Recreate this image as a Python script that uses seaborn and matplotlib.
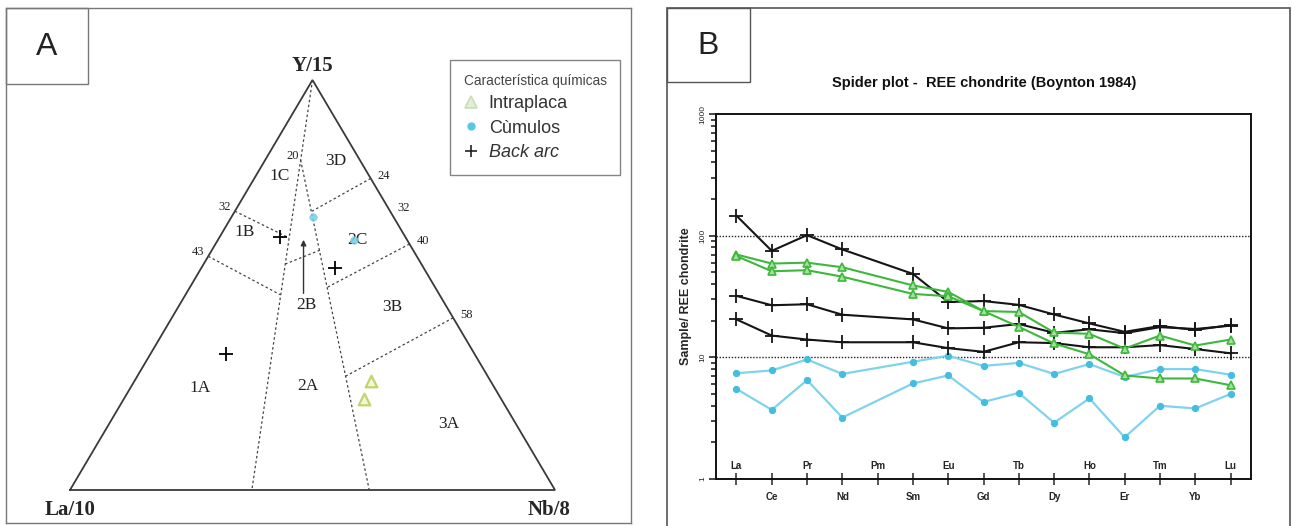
import numpy as np
import pandas as pd
import seaborn as sns
import matplotlib.pyplot as plt
from matplotlib.patches import Rectangle
from matplotlib.lines import Line2D
from matplotlib.ticker import NullFormatter

sns.set_style("white")
plt.rcParams['font.family'] = ['Liberation Sans', 'DejaVu Sans']

W, H = 1292, 526

# ---------------- datos: diagrama ternario La/10 - Y/15 - Nb/8 ----------------
# fracciones (La/10, Y/15, Nb/8)
intraplaca_la = [0.247, 0.282]
intraplaca_y = [0.266, 0.222]
intraplaca_nb = [0.487, 0.496]

cumulos_la = [0.167, 0.110]
cumulos_y = [0.666, 0.610]
cumulos_nb = [0.167, 0.280]

backarc_la = [0.259, 0.184, 0.512]
backarc_y = [0.617, 0.541, 0.332]
backarc_nb = [0.124, 0.275, 0.156]

# limites de campos (inicio -> fin), en (La, Y, Nb)
field_start = [(0.0, 1.0, 0.0), (0.122, 0.805, 0.073), (0.32, 0.68, 0.0), (0.43, 0.57, 0.0),
               (0.0, 0.76, 0.24), (0.281, 0.551, 0.168), (0.0, 0.60, 0.40), (0.0, 0.42, 0.58)]
field_end = [(0.625, 0.0, 0.375), (0.383, 0.0, 0.617), (0.241, 0.615, 0.144), (0.328, 0.476, 0.196),
             (0.161, 0.68, 0.159), (0.192, 0.585, 0.223), (0.221, 0.495, 0.284), (0.292, 0.278, 0.43)]

field_names = ["1A", "1B", "1C", "2A", "2B", "2C", "3A", "3B", "3D"]
field_la = [0.608, 0.325, 0.184, 0.382, 0.288, 0.103, 0.138, 0.113, 0.051]
field_y = [0.249, 0.629, 0.766, 0.254, 0.451, 0.610, 0.161, 0.446, 0.802]
field_nb = [0.143, 0.046, 0.050, 0.364, 0.261, 0.287, 0.701, 0.441, 0.147]

left_ticks = [32, 43]          # La %
right_ticks = [24, 32, 40, 58]  # Nb %

arrow_base = (0.282, 0.473, 0.245)
arrow_tip = (0.210, 0.617, 0.173)

# ---------------- datos: spider plot REE ----------------
ree = ["La", "Ce", "Pr", "Nd", "Pm", "Sm", "Eu", "Gd", "Tb", "Dy", "Ho", "Er", "Tm", "Yb", "Lu"]
nan = np.nan
back_arc_1 = [146, 75, 101, 77, nan, 48.5, 28.5, 29, 27, 22.5, 19, 16.2, 18.1, 16.8, 18.4]
back_arc_2 = [32, 26.8, 27.3, 22.4, nan, 20.5, 17.3, 17.5, 18.8, 15.9, 17.0, 15.8, 17.7, 17.1, 18.2]
back_arc_3 = [20.5, 15.1, 14.0, 13.3, nan, 13.3, 11.9, 11.1, 13.3, 13.1, 12.1, 12.1, 12.6, 11.7, 10.8]
intraplaca_1 = [70, 59, 60, 55, nan, 39, 34.5, 24, 23.6, 16.0, 15.6, 11.8, 15.1, 12.5, 14.0]
intraplaca_2 = [68, 51, 52, 46, nan, 33.2, 31.8, 24, 17.8, 13.0, 10.6, 7.1, 6.7, 6.7, 5.9]
cumulos_1 = [7.4, 7.8, 9.6, 7.3, nan, 9.2, 10.3, 8.5, 9.0, 7.3, 8.8, 6.9, 8.0, 8.0, 7.2]
cumulos_2 = [5.5, 3.7, 6.5, 3.2, nan, 6.1, 7.1, 4.3, 5.1, 2.9, 4.6, 2.2, 4.0, 3.8, 5.0]

SQ = np.sqrt(3) / 2


def tern_xy(la, y, nb):
    la, y, nb = np.asarray(la, float), np.asarray(y, float), np.asarray(nb, float)
    s = la + y + nb
    return nb / s + 0.5 * y / s, SQ * y / s


def fig_box(x0, y0, x1, y1):
    # pixeles (origen arriba-izquierda) -> fraccion de figura
    return [x0 / W, 1 - y1 / H, (x1 - x0) / W, (y1 - y0) / H]


fig = plt.figure(figsize=(W / 100, H / 100), dpi=100)

# ======================= Panel A =======================
ax_a = fig.add_axes(fig_box(6, 8, 631, 523))
ax_a.set_xlim((6 - 70) / 485, (631 - 70) / 485)
ax_a.set_ylim((490 - 523) / 410 * SQ, (490 - 8) / 410 * SQ)
ax_a.set_xticks([])
ax_a.set_yticks([])
for sp in ax_a.spines.values():
    sp.set_color('#777777')
    sp.set_linewidth(1.0)

# triangulo
tx, ty = tern_xy([1, 0, 0, 1], [0, 1, 0, 0], [0, 0, 1, 0])
ax_a.plot(tx, ty, color='#3a3a3a', lw=1.3, solid_joinstyle='miter')

# limites de campos
for p0, p1 in zip(field_start, field_end):
    lx, ly = tern_xy([p0[0], p1[0]], [p0[1], p1[1]], [p0[2], p1[2]])
    ax_a.plot(lx, ly, color='#444444', lw=0.9, ls=(0, (2, 2)))

serif = 'Liberation Serif'
fx, fy = tern_xy(field_la, field_y, field_nb)
for name, x, y in zip(field_names, fx, fy):
    ax_a.text(x, y, name, family=serif, fontsize=12.5, ha='center', va='center', color='#222222')

for v in left_ticks:
    x, y = tern_xy(v / 100, 1 - v / 100, 0)
    ax_a.annotate(str(v), (x, y), xytext=(-3, 3), textcoords='offset points',
                  ha='right', va='center', family=serif, fontsize=9, color='#222222')
for v in right_ticks:
    x, y = tern_xy(0, 1 - v / 100, v / 100)
    ax_a.annotate(str(v), (x, y), xytext=(5, 2), textcoords='offset points',
                  ha='left', va='center', family=serif, fontsize=9, color='#222222')
x20, y20 = tern_xy(*field_start[1])
ax_a.annotate("20", (x20, y20), xytext=(-6, 3), textcoords='offset points',
              ha='center', va='center', family=serif, fontsize=9, color='#222222')

# vertices
ax_a.annotate("Y/15", (tx[1], ty[1]), xytext=(0, 3), textcoords='offset points',
              ha='center', va='bottom', family=serif, fontsize=15, fontweight='bold')
ax_a.annotate("La/10", (tx[0], ty[0]), xytext=(0, -7), textcoords='offset points',
              ha='center', va='top', family=serif, fontsize=15, fontweight='bold')
ax_a.annotate("Nb/8", (tx[2], ty[2]), xytext=(-4, -7), textcoords='offset points',
              ha='center', va='top', family=serif, fontsize=15, fontweight='bold')

# flecha en 2B
ax_a.annotate("", xy=tern_xy(*arrow_tip), xytext=tern_xy(*arrow_base),
              arrowprops=dict(arrowstyle='-|>', lw=1.0, color='#333333', mutation_scale=8))

# puntos
tern = pd.DataFrame({
    "la": intraplaca_la + cumulos_la + backarc_la,
    "y": intraplaca_y + cumulos_y + backarc_y,
    "nb": intraplaca_nb + cumulos_nb + backarc_nb,
    "grupo": ["Intraplaca"] * 2 + ["Cùmulos"] * 2 + ["Back arc"] * 3,
})
tern["x"], tern["yc"] = tern_xy(tern["la"], tern["y"], tern["nb"])

sns.scatterplot(data=tern[tern.grupo == "Cùmulos"], x="x", y="yc", ax=ax_a,
                marker='o', s=30, color='#74cfe8', edgecolor='#74cfe8', alpha=0.85, zorder=4)
sns.scatterplot(data=tern[tern.grupo == "Intraplaca"], x="x", y="yc", ax=ax_a,
                marker='^', s=70, facecolor='#f1f6dc', edgecolor='#c2d46c', linewidth=1.6, zorder=4)
sns.scatterplot(data=tern[tern.grupo == "Back arc"], x="x", y="yc", ax=ax_a,
                marker='+', s=110, color='black', linewidth=1.3, zorder=5)
ax_a.set_xlabel("")
ax_a.set_ylabel("")

handles = [
    Line2D([], [], ls='', marker='^', ms=8, mfc='#e2efd6', mec='#c6dfb8', mew=1.2),
    Line2D([], [], ls='', marker='o', ms=5, mfc='#5cc6e6', mec='#5cc6e6'),
    Line2D([], [], ls='', marker='+', ms=9, mec='#222222', mew=1.2),
]
leg = ax_a.legend(handles, ["Intraplaca", "Cùmulos", "Back arc"], title="Característica químicas",
                  loc='upper left', bbox_to_anchor=(450 / W, 1 - 60 / H), bbox_transform=fig.transFigure,
                  fontsize=13, title_fontsize=9.8, frameon=True, fancybox=False, borderaxespad=0,
                  handlelength=0.8, handletextpad=0.6, labelspacing=0.42, borderpad=0.75,
                  alignment='left')
leg.get_frame().set_edgecolor('#666666')
leg.get_frame().set_linewidth(1.0)
leg.get_title().set_color('#444444')
leg.get_texts()[2].set_style('italic')
for t in leg.get_texts():
    t.set_color('#333333')

# caja "A"
fig.add_artist(Rectangle((6 / W, 1 - 84 / H), 82 / W, 76 / H, transform=fig.transFigure,
                         fill=False, edgecolor='#777777', lw=1.0))
fig.text(47 / W, 1 - 47 / H, "A", fontsize=23, ha='center', va='center', color='#222222')

# ======================= Panel B =======================
fig.add_artist(Rectangle((667 / W, -0.05), (1290 - 667) / W, 1 - 8 / H + 0.05, transform=fig.transFigure,
                         fill=False, edgecolor='#555555', lw=1.2))
fig.add_artist(Rectangle((667 / W, 1 - 82 / H), 83 / W, 74 / H, transform=fig.transFigure,
                         fill=False, edgecolor='#555555', lw=1.0))
fig.text(708 / W, 1 - 46 / H, "B", fontsize=23, ha='center', va='center', color='#222222')
fig.text(984 / W, 1 - 83 / H, "Spider plot -  REE chondrite (Boynton 1984)", fontsize=10.5,
         fontweight='bold', ha='center', va='center', color='#111111')

ax_b = fig.add_axes(fig_box(716, 114, 1251, 479))

spider = pd.DataFrame({
    "elem": ree, "pos": np.arange(len(ree)),
    "BA1": back_arc_1, "BA2": back_arc_2, "BA3": back_arc_3,
    "IP1": intraplaca_1, "IP2": intraplaca_2,
    "CU1": cumulos_1, "CU2": cumulos_2,
})
long = spider.melt(id_vars=["elem", "pos"], var_name="muestra", value_name="valor").dropna()
long["grupo"] = long["muestra"].str[:2]

styles = {
    "CU": dict(color='#7fd3ec', marker='o', markersize=4.5, markerfacecolor='#45bde0',
               markeredgecolor='#45bde0', linewidth=1.6),
    "BA": dict(color='#151515', marker='+', markersize=10, markeredgewidth=1.3,
               markeredgecolor='#151515', linewidth=1.5),
    "IP": dict(color='#3db83d', marker='^', markersize=6, markerfacecolor='#a6e09a',
               markeredgecolor='#3db83d', markeredgewidth=1.2, linewidth=1.5),
}
for g in ["CU", "BA", "IP"]:
    sns.lineplot(data=long[long.grupo == g], x="pos", y="valor", units="muestra", estimator=None,
                 sort=True, ax=ax_b, **styles[g])

ax_b.set_yscale('log')
ax_b.set_ylim(1, 1000)
ax_b.set_xlim(-0.58, 14.58)
for v in [10, 100]:
    ax_b.axhline(v, color='#222222', lw=1.0, ls=(0, (1, 1.2)), zorder=1)

ax_b.set_yticks([1, 10, 100, 1000])
ax_b.set_yticklabels(["1", "10", "100", "1000"], rotation=90, va='center', fontsize=6)
ax_b.yaxis.set_minor_formatter(NullFormatter())
ax_b.tick_params(axis='y', which='major', left=True, right=False, direction='out', length=5,
                 width=1.2, pad=2)
ax_b.tick_params(axis='y', which='minor', left=True, right=False, direction='out', length=3.5,
                 width=1.2)

pos = np.arange(len(ree))
ax_b.set_xticks(pos[1::2])
ax_b.set_xticklabels(ree[1::2], fontsize=7, fontweight='bold')
ax_b.set_xticks(pos[0::2], minor=True)
ax_b.set_xticklabels(ree[0::2], minor=True, fontsize=7, fontweight='bold')
ax_b.tick_params(axis='x', which='major', bottom=True, direction='inout', length=8, width=1.1, pad=5)
ax_b.tick_params(axis='x', which='minor', bottom=True, direction='inout', length=8, width=1.1, pad=-17)

ax_b.set_xlabel("")
ax_b.set_ylabel("Sample/ REE chondrite", fontsize=9, fontweight='bold', labelpad=5)
for sp in ax_b.spines.values():
    sp.set_color('#111111')
    sp.set_linewidth(1.4)

fig.savefig("out.png", dpi=100)
